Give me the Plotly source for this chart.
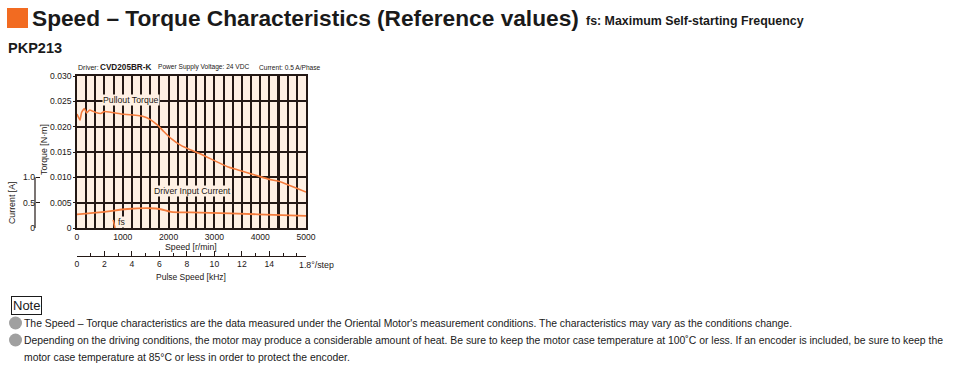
import plotly.graph_objects as go

# ---------------- data ----------------
speed_torque = [0, 65, 100, 160, 210, 280, 410, 520, 595, 705, 960, 1325, 1450, 1600, 1760,
                1900, 2050, 2270, 2485, 2700, 3000, 3285, 3500, 3940, 4200, 4450, 4810, 5000]
pullout_torque = [0.0225, 0.0213, 0.0228, 0.0236, 0.0227, 0.0233, 0.0228, 0.0226, 0.0230,
                  0.0229, 0.0225, 0.0222, 0.0220, 0.0214, 0.0203, 0.0190, 0.0177, 0.0163,
                  0.0154, 0.0146, 0.0133, 0.0121, 0.0115, 0.0103, 0.0096, 0.0091, 0.0078, 0.0071]
speed_current = [0, 595, 1100, 1610, 1830, 2050, 2375, 2485, 3940, 5000]
input_current = [0.27, 0.32, 0.375, 0.39, 0.37, 0.32, 0.31, 0.31, 0.27, 0.24]
fs_speed = [790, 830]
fs_torque = [0.0016, 0.0]
thick_grid_speed = 4400

speed_ticks = [0, 1000, 2000, 3000, 4000, 5000]
torque_ticks = [0, 0.005, 0.010, 0.015, 0.020, 0.025, 0.030]
torque_ticklabels = ["0", "0.005", "0.010", "0.015", "0.020", "0.025", "0.030"]
current_ticks = [0, 0.5, 1.0]
current_ticklabels = ["0", "0.5", "1.0"]
pulse_ticks = [0, 2, 4, 6, 8, 10, 12, 14]
pulse_max = 5000 / 300.0  # 1.8 deg/step: 1 kHz = 300 r/min

# ---------------- style ----------------
W, H = 976, 373
ORANGE = "#F47B3C"
GRID = "#231815"
BG = "#FEF0E4"
TXT = "#231815"
FONT = "Liberation Sans, Arial, Helvetica, sans-serif"

def px(x):
    return x / W

def py(y):
    return 1 - y / H

X0, X1 = 77, 306
Y0, Y1 = 228, 76

fig = go.Figure()

fig.add_trace(go.Scatter(x=speed_torque, y=pullout_torque, mode="lines",
                         line=dict(color=ORANGE, width=1.6, shape="spline", smoothing=0.4),
                         xaxis="x", yaxis="y", hoverinfo="skip", showlegend=False))
fig.add_trace(go.Scatter(x=fs_speed, y=fs_torque, mode="lines",
                         line=dict(color=ORANGE, width=1.6),
                         xaxis="x", yaxis="y", hoverinfo="skip", showlegend=False))
fig.add_trace(go.Scatter(x=speed_current, y=input_current, mode="lines",
                         line=dict(color=ORANGE, width=1.8, shape="spline", smoothing=1.0),
                         xaxis="x", yaxis="y2", hoverinfo="skip", showlegend=False))
# invisible trace so the pulse-speed axis is drawn
fig.add_trace(go.Scatter(x=[0, pulse_max], y=[None, None], mode="lines",
                         xaxis="x2", yaxis="y", hoverinfo="skip", showlegend=False))

tickfont = dict(family=FONT, size=8.6, color=TXT)

fig.update_layout(
    width=W, height=H,
    margin=dict(l=0, r=0, t=0, b=0),
    paper_bgcolor="white",
    plot_bgcolor=BG,
    showlegend=False,
    xaxis=dict(domain=[px(X0), px(X1)], range=[0, 5000], anchor="y",
               tickmode="array", tickvals=speed_ticks, ticktext=[str(v) for v in speed_ticks],
               tickfont=tickfont, ticks="", ticklabelstandoff=0,
               showgrid=True, gridcolor=GRID, gridwidth=1.5,
               minor=dict(dtick=200, showgrid=True, gridcolor=GRID, gridwidth=1.5),
               showline=True, linecolor=GRID, linewidth=1.5, mirror=True,
               zeroline=False, automargin=False, fixedrange=True),
    yaxis=dict(domain=[py(Y0), py(Y1)], range=[0, 0.030], anchor="x",
               tickmode="array", tickvals=torque_ticks, ticktext=torque_ticklabels,
               tickfont=tickfont, ticks="outside", ticklen=2, tickcolor=GRID,
               showgrid=True, gridcolor=GRID, gridwidth=1.5,
               showline=True, linecolor=GRID, linewidth=1.5, mirror=True,
               zeroline=False, automargin=False, fixedrange=True),
    yaxis2=dict(overlaying="y", range=[0, 3.0], anchor="free",
                position=px(35), side="left",
                tickmode="array", tickvals=current_ticks, ticktext=current_ticklabels,
                tickfont=tickfont, ticks="inside", ticklen=4, tickcolor=GRID, tickwidth=1.2,
                showgrid=False, showline=False,
                zeroline=False, automargin=False, fixedrange=True),
    xaxis2=dict(overlaying="x", range=[0, pulse_max], anchor="free",
                position=py(256), side="bottom",
                tickmode="array", tickvals=pulse_ticks, ticktext=[str(v) for v in pulse_ticks],
                tickfont=tickfont, ticks="inside", ticklen=5, tickcolor=GRID, tickwidth=1.2,
                minor=dict(dtick=1, ticks="inside", ticklen=3, tickcolor=GRID),
                showgrid=False, showline=True, linecolor=GRID, linewidth=1.2,
                zeroline=False, automargin=False, fixedrange=True),
)

# thick grid line
fig.add_shape(type="line", xref="x", yref="y", x0=thick_grid_speed, x1=thick_grid_speed,
              y0=0, y1=0.030, line=dict(color=GRID, width=3), layer="below")
# current axis line (spans 0 .. 1.0 A only)
fig.add_shape(type="line", xref="paper", yref="y2", x0=px(35), x1=px(35),
              y0=current_ticks[0], y1=current_ticks[-1], line=dict(color=GRID, width=1.2))

ann = []
# title block
fig.add_shape(type="rect", xref="paper", yref="paper", x0=px(7), x1=px(28), y0=py(28), y1=py(8),
              fillcolor="#F26B21", line=dict(width=0))
ann.append(dict(x=px(30), y=py(18), text="<b>Speed – Torque Characteristics (Reference values)</b>",
                font=dict(family=FONT, size=22.7, color="#1a1a1a"), xanchor="left", yanchor="middle"))
ann.append(dict(x=px(584), y=py(21), text="<b>fs: Maximum Self-starting Frequency</b>",
                font=dict(family=FONT, size=12.4, color="#1a1a1a"), xanchor="left", yanchor="middle"))
ann.append(dict(x=px(6), y=py(48), text="<b>PKP213</b>",
                font=dict(family=FONT, size=14.5, color="#1a1a1a"), xanchor="left", yanchor="middle"))
# driver header
for xx, t, sz in [(76, "Driver:", 7.0), (98, "<b>CVD205BR-K</b>", 8.2),
                  (156, "Power Supply Voltage: 24 VDC", 6.6), (257, "Current: 0.5 A/Phase", 6.6)]:
    ann.append(dict(x=px(xx), y=py(67), text=t,
                    font=dict(family=FONT, size=sz, color=TXT), xanchor="left", yanchor="middle"))
# axis titles
ann.append(dict(x=px(44), y=py(150), text="Torque [N·m]", textangle=-90,
                font=dict(family=FONT, size=8.8, color=TXT), xanchor="center", yanchor="middle"))
ann.append(dict(x=px(12), y=py(203), text="Current [A]", textangle=-90,
                font=dict(family=FONT, size=8.8, color=TXT), xanchor="center", yanchor="middle"))
ann.append(dict(x=px(191), y=py(247), text="Speed [r/min]",
                font=dict(family=FONT, size=8.7, color=TXT), xanchor="center", yanchor="middle"))
ann.append(dict(x=px(191), y=py(277), text="Pulse Speed [kHz]",
                font=dict(family=FONT, size=8.5, color=TXT), xanchor="center", yanchor="middle"))
ann.append(dict(x=px(297), y=py(265), text="1.8°/step",
                font=dict(family=FONT, size=8.8, color=TXT), xanchor="left", yanchor="middle"))
# in-plot labels
for xv, yv, t, xa in [(1176, 0.0253, "Pullout Torque", "center"),
                      (2528, 0.0073, "Driver Input Current", "center"),
                      (870, 0.0011, "fs", "left")]:
    ann.append(dict(x=xv, y=yv, xref="x", yref="y", text=t, bgcolor=BG,
                    font=dict(family=FONT, size=8.7, color=TXT), xanchor=xa, yanchor="middle",
                    borderpad=0))
# note block
ann.append(dict(x=px(11), y=py(305), text="Note", bordercolor="#1a1a1a", borderwidth=1, borderpad=1,
                font=dict(family=FONT, size=13, color="#1a1a1a"), xanchor="left", yanchor="middle"))
notes = [
    (323, "The Speed – Torque characteristics are the data measured under the Oriental Motor's measurement conditions. The characteristics may vary as the conditions change."),
    (340, "Depending on the driving conditions, the motor may produce a considerable amount of heat. Be sure to keep the motor case temperature at 100˚C or less. If an encoder is included, be sure to keep the"),
    (357, "motor case temperature at 85°C or less in order to protect the encoder."),
]
for yy, t in notes:
    ann.append(dict(x=px(22), y=py(yy), text=t,
                    font=dict(family=FONT, size=10.4, color="#1a1a1a"), xanchor="left", yanchor="middle"))
for yy in (323, 340):
    fig.add_shape(type="circle", xref="paper", yref="paper", x0=px(9), x1=px(22),
                  y0=py(yy + 6.5), y1=py(yy - 6.5), fillcolor="#A0A0A0", line=dict(width=0))

for a in ann:
    a.setdefault("xref", "paper")
    a.setdefault("yref", "paper")
    a["showarrow"] = False
fig.update_layout(annotations=ann)

fig.write_html("out.html", config={"displayModeBar": False},
               post_script="document.body.style.margin='0px';")
